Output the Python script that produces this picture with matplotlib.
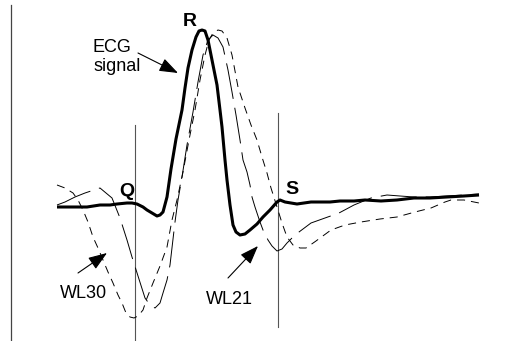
import matplotlib
matplotlib.use("Agg")
import matplotlib.pyplot as plt

plt.rcParams['font.family'] = ['Liberation Sans', 'DejaVu Sans']
plt.rcParams['lines.scale_dashes'] = False

# time in ms, amplitude in mV
ecg_t = [0, 13, 30, 43, 53, 60, 70, 75, 80, 86, 90, 95, 100, 103, 106, 110, 114, 119,
         125, 128, 131, 135, 139, 142, 145, 148, 151, 155, 160, 163, 165, 168, 170, 173,
         176, 179, 183, 188, 193, 200, 206, 213, 220, 223, 228, 234, 240, 247, 254, 263,
         273, 283, 297, 308, 324, 340, 357, 373, 390, 407, 422]
ecg_a = [0.00, 0.00, 0.00, 0.02, 0.02, 0.03, 0.04, 0.04, 0.03, 0.00, -0.03, -0.06, -0.09,
         -0.08, -0.05, 0.10, 0.38, 0.68, 0.97, 1.19, 1.39, 1.57, 1.70, 1.76, 1.77, 1.76,
         1.67, 1.47, 1.22, 0.97, 0.80, 0.47, 0.27, 0.02, -0.18, -0.25, -0.28, -0.27, -0.23,
         -0.17, -0.10, -0.03, 0.05, 0.07, 0.05, 0.04, 0.03, 0.04, 0.05, 0.05, 0.05, 0.06,
         0.06, 0.07, 0.06, 0.07, 0.09, 0.09, 0.10, 0.11, 0.12]

wl21_t = [0, 8, 18, 28, 43, 55, 63, 70, 75, 81, 88, 93, 98, 103, 106, 110, 113, 118, 121,
          125, 130, 136, 141, 146, 151, 156, 161, 166, 171, 175, 179, 183, 186, 190, 193,
          195, 198, 203, 206, 211, 215, 220, 225, 230, 236, 242, 254, 268, 282, 297, 314,
          330, 343, 357, 373, 390, 407, 422]
wl21_a = [0.02, 0.05, 0.10, 0.14, 0.19, 0.09, -0.11, -0.33, -0.50, -0.69, -0.91, -0.98,
          -1.01, -0.96, -0.86, -0.73, -0.58, -0.15, 0.07, 0.30, 0.62, 0.95, 1.25, 1.52,
          1.67, 1.72, 1.69, 1.60, 1.37, 1.15, 0.92, 0.67, 0.47, 0.35, 0.22, 0.10, 0.00,
          -0.15, -0.23, -0.33, -0.39, -0.44, -0.42, -0.36, -0.30, -0.25, -0.16, -0.11,
          -0.06, 0.02, 0.09, 0.12, 0.11, 0.10, 0.10, 0.11, 0.12, 0.13]

wl30_t = [0, 8, 16, 21, 26, 31, 36, 41, 46, 51, 56, 61, 65, 69, 73, 77, 81, 86, 90, 96,
          103, 110, 115, 120, 126, 132, 138, 143, 148, 152, 156, 161, 165, 170, 175, 181,
          188, 194, 200, 205, 210, 214, 220, 225, 230, 236, 243, 249, 259, 274, 288, 304,
          323, 340, 358, 374, 388, 394, 407, 422]
wl30_a = [0.22, 0.19, 0.14, 0.07, -0.03, -0.15, -0.30, -0.41, -0.53, -0.65, -0.76, -0.88,
          -0.96, -1.06, -1.10, -1.11, -1.09, -1.03, -0.91, -0.76, -0.59, -0.40, -0.13, 0.07,
          0.35, 0.67, 0.97, 1.27, 1.52, 1.67, 1.74, 1.77, 1.76, 1.69, 1.52, 1.20, 0.99,
          0.82, 0.67, 0.50, 0.34, 0.19, 0.00, -0.16, -0.30, -0.38, -0.41, -0.41, -0.34,
          -0.23, -0.18, -0.15, -0.12, -0.10, -0.05, -0.01, 0.05, 0.07, 0.07, 0.04]

q_time = 78
s_time = 221
frame_time = -46

fig = plt.figure(figsize=(5.28, 3.41), dpi=100)
ax = fig.add_axes([0, 0, 1, 1])
ax.set_xlim(-57, 471)
ax.set_ylim(-1.34, 2.07)
ax.axis('off')

# frame line and Q / S markers
ax.plot([frame_time, frame_time], [-1.34, 2.02], color='#444444', lw=0.9)
ax.plot([q_time, q_time], [-1.34, 0.82], color='#555555', lw=0.8)
ax.plot([s_time, s_time], [-1.20, 0.94], color='#555555', lw=0.8)

ax.plot(wl30_t, wl30_a, color='black', lw=0.7, linestyle=(0, (5.8, 4.3)))
ax.plot(wl21_t, wl21_a, color='black', lw=0.7, linestyle=(0, (26, 6.5)))
ax.plot(ecg_t, ecg_a, color='black', lw=2.2, solid_capstyle='butt')

bold = dict(fontsize=14, fontweight='bold', ha='center', va='center')
ax.text(133, 1.85, 'R', **bold)
ax.text(70, 0.16, 'Q', **bold)
ax.text(235, 0.17, 'S', **bold)

arrow = dict(arrowstyle='-|>,head_length=1.15,head_width=0.42', color='black',
             lw=0.8, shrinkA=0, shrinkB=0)
ax.annotate('', xy=(121, 1.34), xytext=(81, 1.54), arrowprops=arrow)
ax.annotate('', xy=(50, -0.46), xytext=(21, -0.66), arrowprops=arrow)
ax.annotate('', xy=(201, -0.39), xytext=(171, -0.71), arrowprops=arrow)

ax.text(36, 1.50, 'ECG\nsignal', fontsize=13, ha='left', va='center', linespacing=1.2)
ax.text(26, -0.86, 'WL30', fontsize=13, ha='center', va='center')
ax.text(172, -0.93, 'WL21', fontsize=13, ha='center', va='center')

fig.savefig('out.png', dpi=100)
